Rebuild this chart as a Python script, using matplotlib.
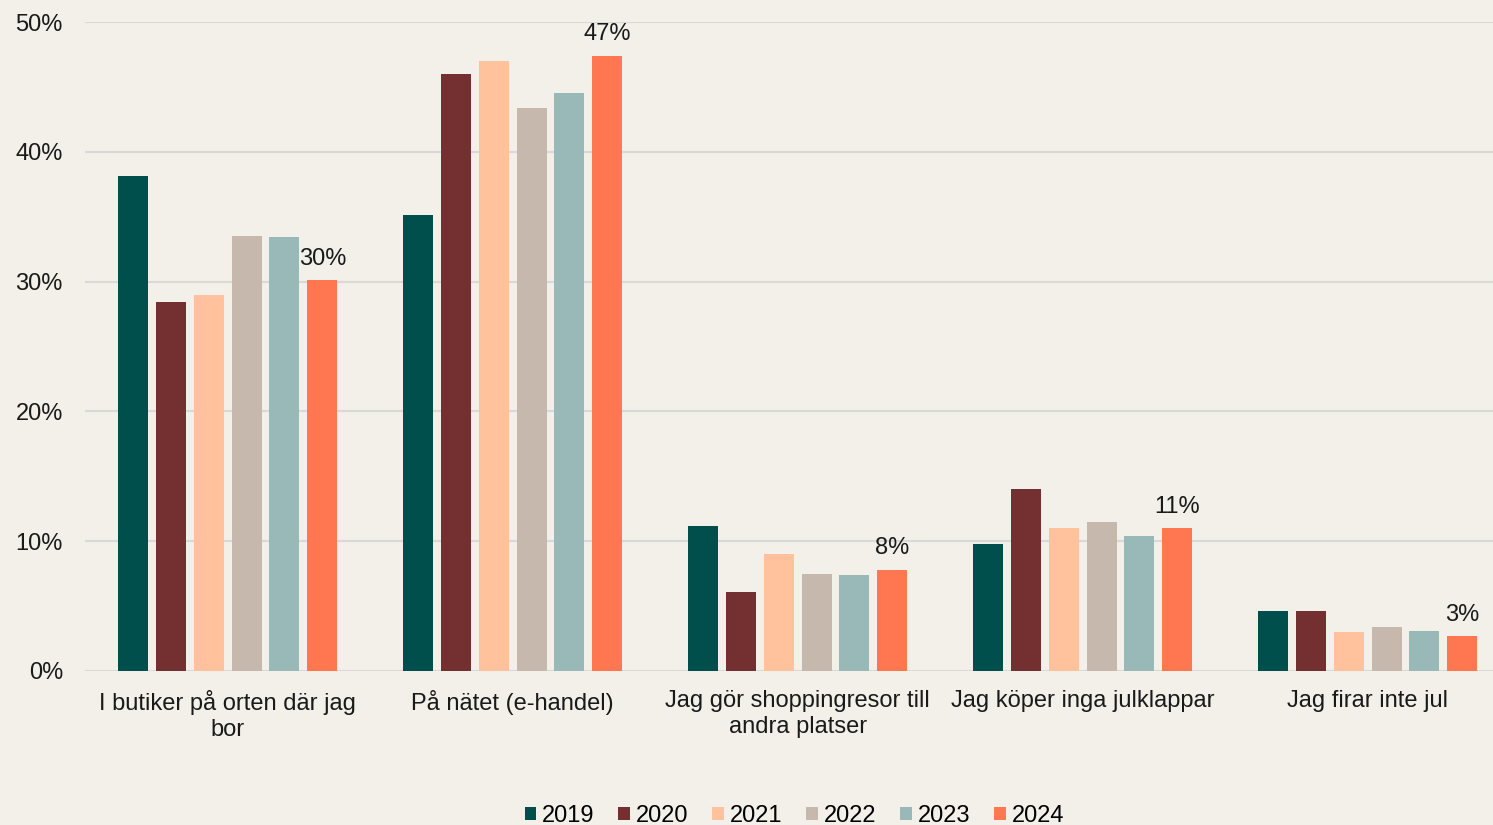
import numpy as np
import matplotlib.pyplot as plt

plt.rcParams["font.family"] = ["Liberation Sans", "DejaVu Sans"]

categories = ["I butiker på orten där jag\nbor", "På nätet (e-handel)",
              "Jag gör shoppingresor till\nandra platser", "Jag köper inga julklappar",
              "Jag firar inte jul"]
years = ["2019", "2020", "2021", "2022", "2023", "2024"]
values = {
    "2019": [38.1, 35.1, 11.2, 9.8, 4.6],
    "2020": [28.4, 46.0, 6.1, 14.0, 4.6],
    "2021": [29.0, 47.0, 9.0, 11.0, 3.0],
    "2022": [33.5, 43.4, 7.5, 11.5, 3.4],
    "2023": [33.4, 44.5, 7.4, 10.4, 3.1],
    "2024": [30.1, 47.4, 7.8, 11.0, 2.7],
}
colours = ["#004f4d", "#742f30", "#ffc29d", "#c7b8ae", "#99b8b8", "#ff7750"]

bg = "#f3efe9"
fig = plt.figure(figsize=(14.93, 8.25), dpi=100, facecolor=bg)
ax = fig.add_axes([0.057, 0.1867, 0.943, 0.7866], facecolor=bg)

x = np.arange(len(categories))
step = 0.133
width = 0.105
for i, yr in enumerate(years):
    pos = x + (i - 2.5) * step
    bars = ax.bar(pos, values[yr], width, color=colours[i], label=yr, zorder=3)
    if yr == "2024":
        for b, v in zip(bars, values[yr]):
            ax.text(b.get_x() + b.get_width() / 2, v + 0.8, "{:.0f}%".format(v),
                    ha="center", va="bottom", fontsize=17, color="#1a1a1a")

ax.set_ylim(0, 50)
ax.set_xlim(-0.5, 4.44)
ax.set_yticks(np.arange(0, 51, 10))
ax.set_yticklabels(["{}%".format(t) for t in range(0, 51, 10)])
ax.set_xticks(x)
ax.set_xticklabels(categories)
ax.tick_params(axis="both", length=0, labelsize=17, colors="#1a1a1a")
ax.tick_params(axis="y", pad=16)
ax.tick_params(axis="x", pad=14)
ax.yaxis.grid(True, color="#d9d9d9", lw=1.5, zorder=0)
for s in ax.spines.values():
    s.set_visible(False)

fig.legend(loc="lower center", ncol=6, frameon=False, fontsize=17,
           bbox_to_anchor=(0.532, -0.028), handlelength=0.5, handleheight=0.5,
           handletextpad=0.25, columnspacing=1.0)

fig.savefig("out.png", dpi=100, facecolor=bg)
